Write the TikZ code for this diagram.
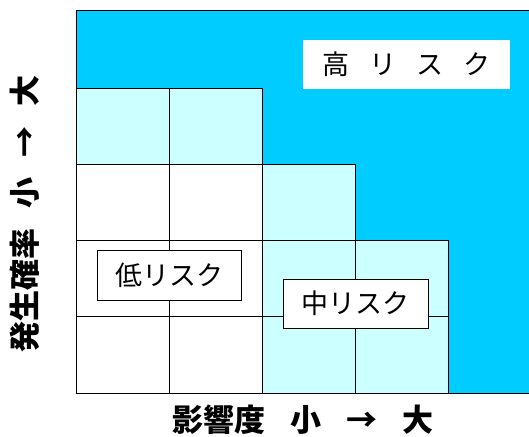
\documentclass[tikz,border=0pt]{standalone}
\usepackage{fontspec}
\newfontfamily\jp{Noto Sans CJK JP}
\definecolor{hiblue}{HTML}{00CCFF}
\definecolor{midcyan}{HTML}{CCFFFF}
\newcommand{\rgap}{\hspace{20pt}}
\newcommand{\agap}{\hspace{20pt}}
\newcommand{\bgap}{\hspace{25pt}}

\begin{document}
\begin{tikzpicture}[x=1pt,y=-1pt,
    cellline/.style={line width=1pt},
    riskbox/.style={draw,fill=white,line width=1pt,inner sep=0pt,
      minimum width=145pt,minimum height=49pt,
      font=\jp\fontsize{27}{27}\selectfont},
    axislabel/.style={inner sep=0pt,font=\jp\bfseries\fontsize{31}{31}\selectfont}]
     \useasboundingbox (0,0) rectangle (529,436);
     % areas
     \fill[hiblue]  ( 76, 11) rectangle (545,393);
     \fill[midcyan] ( 76, 88) rectangle (262,164);
     \fill[midcyan] (262,164) rectangle (355,240);
     \fill[midcyan] (262,240) rectangle (448,393);
     \fill[white]   ( 76,164) rectangle (262,393);
     % cells
     \draw[cellline] ( 76, 88) -- (262, 88) -- (262,164) -- (355,164)
                     -- (355,240) -- (448,240) -- (448,393);
     \draw[cellline] (169, 88) -- (169,393);
     \draw[cellline] (262,164) -- (262,393);
     \draw[cellline] (355,240) -- (355,393);
     \draw[cellline] ( 76,164) -- (262,164);
     \draw[cellline] ( 76,240) -- (355,240);
     \draw[cellline] ( 76,316) -- (448,316);
     \draw[cellline] (545, 11) -- ( 76, 11) -- ( 76,393) -- (545,393);
     % labels
     \node[riskbox,draw=none,minimum width=207pt] (high) at (406.5, 64.5)
          {高\rgap リ\rgap ス\rgap ク};
     \node[riskbox,minimum width=144pt,minimum height=50pt] (low) at (169,275) {低リスク};
     \node[riskbox] (mid) at (355.5,303.5) {中リスク};
     \node[axislabel] (impact) at (303,420) {影響度\bgap 小\bgap →\bgap 大};
     \node[axislabel,rotate=90] (prob) at (25,214) {発生確率\agap 小\agap →\agap 大};
    \end{tikzpicture}
\end{document}
